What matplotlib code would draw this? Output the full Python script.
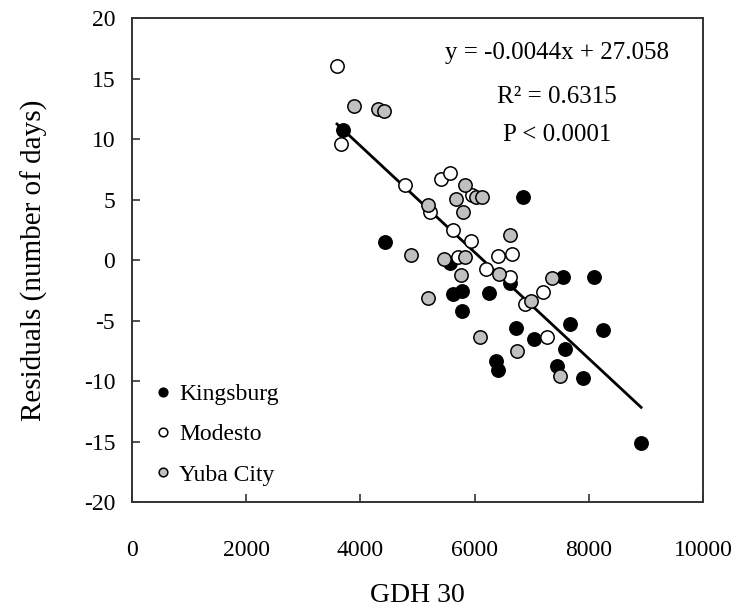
import matplotlib
matplotlib.use("Agg")
import matplotlib.pyplot as plt

plt.rcParams['font.family'] = ['Liberation Serif', 'DejaVu Serif']
plt.rcParams['axes.unicode_minus'] = False

# GDH 30 and residuals
kings_x = [3690, 4430, 5561, 5620, 5784, 5784, 6251, 6374, 6404, 6609, 6725,
           6847, 7035, 7433, 7549, 7579, 7667, 7900, 8093, 8251, 8912]
kings_y = [10.8, 1.5, -0.2, -2.8, -2.5, -4.2, -2.7, -8.3, -9.1, -1.9, -5.6,
           5.2, -6.5, -8.7, -1.35, -7.3, -5.3, -9.75, -1.35, -5.8, -15.1]

mod_x = [3590, 3665, 4772, 5223, 5416, 5574, 5620, 5707, 5942, 5950, 6191,
         6416, 6649, 6609, 6877, 7198, 7257]
mod_y = [16.1, 9.6, 6.2, 4.0, 6.7, 7.2, 2.5, 0.3, 1.6, 5.4, -0.74,
         0.36, 0.5, -1.4, -3.6, -2.6, -6.3]

yuba_x = [3883, 4304, 4421, 4889, 5181, 5181, 5462, 5679, 5766, 5795, 5825,
          5836, 6018, 6088, 6135, 6433, 6614, 6732, 6977, 7345, 7491]
yuba_y = [12.75, 12.5, 12.3, 0.4, 4.6, -3.1, 0.14, 5.1, -1.2, 4.0, 6.2,
          0.3, 5.2, -6.3, 5.2, -1.16, 2.1, -7.5, -3.4, -1.5, -9.6]

slope = -0.0044
intercept = 27.058


def main():
    fig = plt.figure(figsize=(7.45, 6.11), dpi=100)
    ax = fig.add_axes([0.177, 0.178, 0.767, 0.792])

    ms = 9.6
    ax.plot(kings_x, kings_y, 'o', ms=ms, mfc='black', mec='black', mew=1.1,
            label='Kingsburg', zorder=3)
    ax.plot(mod_x, mod_y, 'o', ms=ms, mfc='white', mec='black', mew=1.1,
            label='Modesto', zorder=3)
    ax.plot(yuba_x, yuba_y, 'o', ms=ms, mfc='#c0c0c0', mec='black', mew=1.1,
            label='Yuba City', zorder=3)

    all_x = kings_x + mod_x + yuba_x
    xs = [min(all_x), max(all_x)]
    ax.plot(xs, [slope * v + intercept for v in xs], color='black', lw=2,
            zorder=2)

    ax.set_xlim(0, 10000)
    ax.set_ylim(-20, 20)
    ax.set_xticks(range(0, 10001, 2000))
    ax.set_yticks(range(-20, 21, 5))
    ax.tick_params(direction='in', length=6, width=1.2, labelsize=17,
                   pad=12, color='#333333')
    ax.tick_params(axis='x', pad=27)
    for s in ax.spines.values():
        s.set_linewidth(1.4)
        s.set_color('#333333')

    ax.set_xlabel('GDH 30', fontsize=20, labelpad=16)
    ax.set_ylabel('Residuals (number of days)', fontsize=21, labelpad=26)

    ax.text(0.744, 0.928, 'y = -0.0044x + 27.058', transform=ax.transAxes,
            ha='center', va='center', fontsize=18)
    ax.text(0.744, 0.837, 'R² = 0.6315', transform=ax.transAxes,
            ha='center', va='center', fontsize=18)
    ax.text(0.744, 0.758, 'P < 0.0001', transform=ax.transAxes,
            ha='center', va='center', fontsize=18)

    ax.legend(loc='lower left', frameon=False, fontsize=17, markerscale=0.65,
              handletextpad=0.1, labelspacing=0.8, borderaxespad=0.3,
              handlelength=1.2)

    fig.savefig('out.png', dpi=100)


if __name__ == "__main__":
    main()
